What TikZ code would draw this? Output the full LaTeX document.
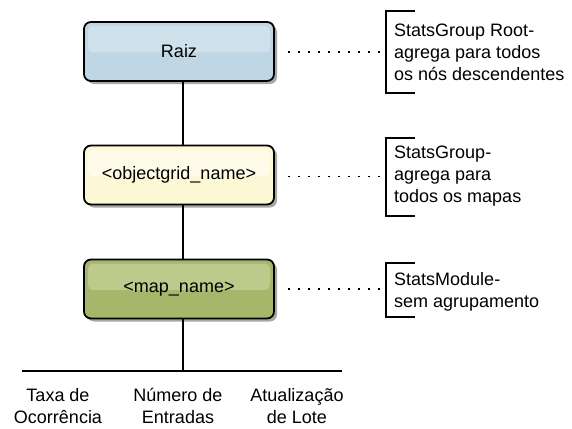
\documentclass[tikz,border=0pt]{standalone}
\usepackage{fontspec}
\setmainfont{Liberation Sans}
\usetikzlibrary{shadows,calc}
\definecolor{blueA}{HTML}{BFD6E5}
\definecolor{blueB}{HTML}{CFE1EB}
\definecolor{yelA}{HTML}{FCF8D6}
\definecolor{yelB}{HTML}{FEFCE9}
\definecolor{grnA}{HTML}{A6B66A}
\definecolor{grnB}{HTML}{BCCA8C}
\definecolor{shadowgray}{HTML}{A8A8A8}
\tikzset{
  box/.style={draw=black, line width=1.8pt, rounded corners=7pt,
    minimum width=190pt, minimum height=59pt, inner sep=0pt,
    font=\fontsize{18}{22}\selectfont,
    drop shadow={shadow xshift=3pt, shadow yshift=-3pt, fill=shadowgray, opacity=1}},
  hl/.style={path picture={\fill[#1, rounded corners=5pt]
     ([shift={(4pt,-4pt)}]path picture bounding box.north west) rectangle
     ([shift={(-4pt,-1pt)}]path picture bounding box.east);}},
  link/.style={line width=1.8pt, black},
  dotline/.style={line width=1.8pt, dash pattern=on 1.8pt off 8.2pt},
  bracket/.style={line width=1.8pt},
  note/.style={anchor=west, align=left, inner sep=0pt,
    font=\fontsize{18}{22}\selectfont},
  leaf/.style={align=center, inner sep=0pt, font=\fontsize{18}{22}\selectfont}
}
\begin{document}
\begin{tikzpicture}[x=1pt,y=-1pt]
\useasboundingbox (0,0) rectangle (572,428);
% boxes
\node[box, fill=blueA, hl=blueB] (b1) at (179,51.5) {Raiz};
\node[box, fill=yelA, hl=yelB] (b2) at (179,175) {<objectgrid\_name>};
\node[box, fill=grnA, hl=grnB] (b3) at (179,289) {<map\_name>};
% trunk
\coordinate (tx) at (183,0);
\coordinate (hl) at (22,371);
\coordinate (hr) at (342,371);
\coordinate (hm) at (183,371);
\draw[link] (b1.south -| tx) -- (b2.north -| tx);
\draw[link] (b2.south -| tx) -- (b3.north -| tx);
\draw[link] (b3.south -| tx) -- (hm);
\draw[link] (hl) -- (hr);
% leaves
\node[leaf] (l1) at (58,406) {Taxa de\\Ocorrência};
\node[leaf] (l2) at (178,406) {Número de\\Entradas};
\node[leaf] (l3) at (297,406) {Atualização\\de Lote};
% notes
\node[note] (n1) at (394,52) {StatsGroup Root-\\agrega para todos\\os nós descendentes};
\node[note] (n2) at (394,176.5) {StatsGroup-\\agrega para\\todos os mapas};
\node[note] (n3) at (394,291.5) {StatsModule-\\sem agrupamento};
% brackets
\coordinate (k1t) at (386,11);  \coordinate (k1b) at (386,93);
\coordinate (k2t) at (386,138); \coordinate (k2b) at (386,216);
\coordinate (k3t) at (386,263); \coordinate (k3b) at (386,317);
\draw[bracket] ([xshift=29pt]k1t) -- (k1t) -- (k1b) -- ([xshift=29pt]k1b);
\draw[bracket] ([xshift=29pt]k2t) -- (k2t) -- (k2b) -- ([xshift=29pt]k2b);
\draw[bracket] ([xshift=29pt]k3t) -- (k3t) -- (k3b) -- ([xshift=29pt]k3b);
% dotted connectors
\draw[dotline] ([xshift=13pt]b1.east |- n1.west) -- ([xshift=-4pt]k1t |- n1.west);
\draw[dotline] ([xshift=13pt]b2.east |- n2.west) -- ([xshift=-4pt]k2t |- n2.west);
\draw[dotline] ([xshift=13pt]b3.east) -- ([xshift=-4pt]k3t |- b3.east);
\end{tikzpicture}
\end{document}
